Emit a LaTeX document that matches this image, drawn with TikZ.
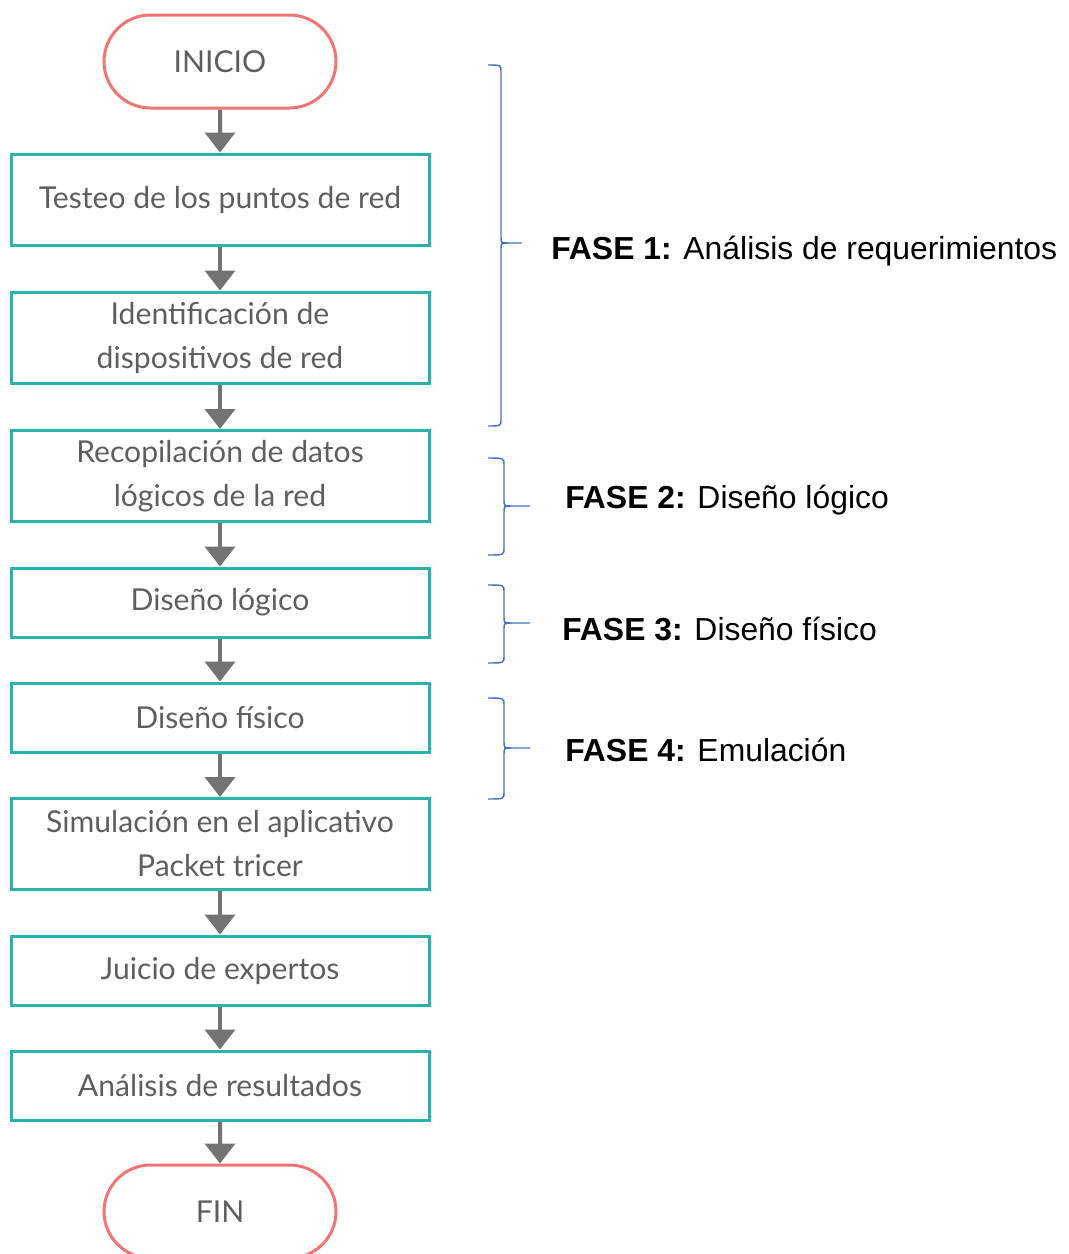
\documentclass[tikz,border=0pt]{standalone}
\usepackage{fontspec}
\setmainfont{Liberation Sans}
\newfontfamily\latofont{Lato}
\usetikzlibrary{shapes.misc,arrows.meta}
\definecolor{tealbox}{HTML}{2AB2AD}
\definecolor{redterm}{HTML}{F27474}
\definecolor{arrowgray}{HTML}{737373}
\definecolor{textgray}{HTML}{5E5E5E}
\definecolor{braceblue}{HTML}{4472C4}
\tikzset{
  proc/.style={draw=tealbox, line width=2.25pt, rectangle, minimum width=313.5pt,
    inner sep=0pt, align=center, text=textgray,
    font=\latofont\fontsize{22.6}{33}\selectfont},
  term/.style={draw=redterm, line width=2.25pt, rounded rectangle, minimum width=174pt,
    minimum height=69.75pt, inner sep=0pt, text=textgray,
    font=\latofont\fontsize{22.6}{27}\selectfont},
  flow/.style={draw=arrowgray, line width=3pt, -{Triangle[width=22.5pt,length=15pt]}},
  bracestyle/.style={draw=braceblue, line width=1.1pt},
  phase/.style={anchor=west, inner sep=0pt, font=\fontsize{23.9}{28}\selectfont}
}
\newcommand\phbrace[6]{% top mid bottom xleft xvert xtip
  \draw[bracestyle] (#4,#1) .. controls (#5,#1) .. (#5,#1+7) -- (#5,#2-7)
    .. controls (#5,#2) .. (#5+7,#2) -- (#6,#2);
  \draw[bracestyle] (#5+7,#2) .. controls (#5,#2) .. (#5,#2+7) -- (#5,#3-7)
    .. controls (#5,#3) .. (#4,#3);}
\begin{document}
\begin{tikzpicture}[x=0.75pt,y=-0.75pt]
\useasboundingbox (0,0) rectangle (1069,1254);
\node[term] (start) at (220,61.5) {INICIO};
\node[proc, minimum height=68.25pt] (b1) at (220,199.5) {Testeo de los puntos de red};
\node[proc, minimum height=68.25pt] (b2) at (220,337.5) {Identificación de\\dispositivos de red};
\node[proc, minimum height=68.25pt] (b3) at (220,476) {Recopilación de datos\\lógicos de la red};
\node[proc, minimum height=51.75pt] (b4) at (220,602.5) {Diseño lógico};
\node[proc, minimum height=51.75pt] (b5) at (220,717.5) {Diseño físico};
\node[proc, minimum height=68.25pt] (b6) at (220,844) {Simulación en el aplicativo\\Packet tricer};
\node[proc, minimum height=51.75pt] (b7) at (220,970.5) {Juicio de expertos};
\node[proc, minimum height=51.75pt] (b8) at (220,1085.5) {Análisis de resultados};
\node[term] (end) at (220,1211.5) {FIN};
\draw[flow] (start) -- (b1);
\draw[flow] (b1) -- (b2);
\draw[flow] (b2) -- (b3);
\draw[flow] (b3) -- (b4);
\draw[flow] (b4) -- (b5);
\draw[flow] (b5) -- (b6);
\draw[flow] (b6) -- (b7);
\draw[flow] (b7) -- (b8);
\draw[flow] (b8) -- (end);
\phbrace{65}{243}{426}{488}{501}{522}
\phbrace{458}{506}{555}{488}{504}{530}
\phbrace{585}{623}{663}{488}{504}{530}
\phbrace{698}{748}{799}{488}{504}{530}
\node[phase] (f1) at (551,251) {\textbf{FASE 1:} Análisis de requerimientos};
\node[phase] (f2) at (565,500) {\textbf{FASE 2:} Diseño lógico};
\node[phase] (f3) at (562,629) {\textbf{FASE 3:} Diseño físico};
\node[phase] (f4) at (565,750) {\textbf{FASE 4:} Emulación};
\end{tikzpicture}
\end{document}
